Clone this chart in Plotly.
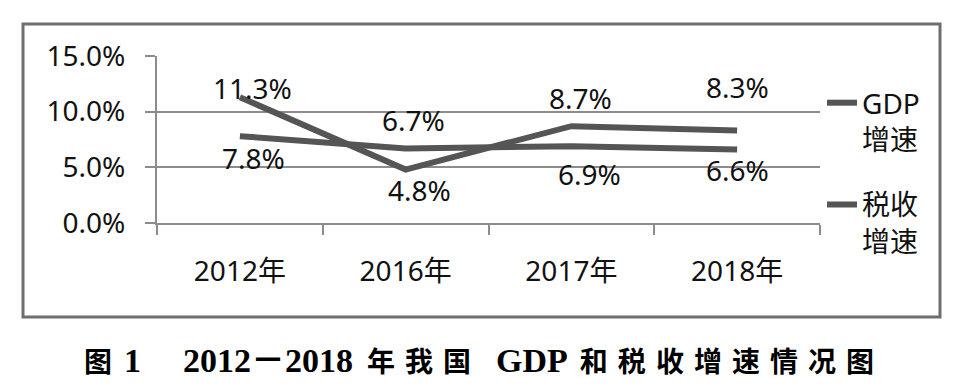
import plotly.graph_objects as go

# ---- data ----
years = ["2012年", "2016年", "2017年", "2018年"]
gdp_growth = [7.8, 6.7, 6.9, 6.6]
tax_growth = [11.3, 4.8, 8.7, 8.3]
y_ticks = [0, 5, 10, 15]
y_tick_labels = ["0.0%", "5.0%", "10.0%", "15.0%"]
series_names = ["GDP<br>增速", "税收<br>增速"]

# label offsets (pixels) - style only
gdp_label_shift = [(14, -22), (8, 28), (18, -28), (0, -20)]
tax_label_shift = [(13, 9), (14, -20), (9, 28), (0, 44)]

LINE_COLOR = "#555555"
GRID = "#8c8c8c"
FONT = "Noto Sans, Noto Sans CJK SC, sans-serif"

W, H = 969, 388
L, R, T, B = 157, 149, 56, 165
PW, PH = W - L - R, H - T - B

def px_x(p):
    return (p - L) / PW

def px_y(p):
    return (H - B - p) / PH

fig = go.Figure()
fig.add_trace(go.Scatter(x=years, y=gdp_growth, mode="lines", name=series_names[0],
                         legendgroup="g", line=dict(color=LINE_COLOR, width=6)))
fig.add_trace(go.Scatter(x=years, y=tax_growth, mode="lines", name=series_names[1],
                         legendgroup="t", line=dict(color=LINE_COLOR, width=6)))

annotations = []
for vals, shifts in ((gdp_growth, gdp_label_shift), (tax_growth, tax_label_shift)):
    for xc, v, (dx, dy) in zip(years, vals, shifts):
        annotations.append(dict(x=xc, y=v, text=f"{v:.1f}%", showarrow=False,
                                xshift=dx, yshift=dy,
                                font=dict(family=FONT, size=28, color="#111")))

def gap(n):
    return f'<span style="font-size:{n}px">\u2003</span>'

def cjk(s, g):
    return gap(g).join('<span style="font-size:28px">' + c + '</span>' for c in s)

caption = (cjk("图", 0) + gap(12) + "1" + gap(42) + "2012－2018" + gap(14)
           + cjk("年我国", 10) + gap(25) + "GDP" + gap(12) + cjk("和税收增速情况图", 10))
annotations.append(dict(xref="paper", yref="paper", x=px_x(479), y=px_y(358),
                        xanchor="center", yanchor="middle", showarrow=False,
                        text="<b>" + caption + "</b>",
                        font=dict(family="Liberation Serif, Noto Sans CJK SC, serif", size=34, color="#000")))

fig.update_layout(
    width=W, height=H,
    margin=dict(l=L, r=R, t=T, b=B, autoexpand=False),
    paper_bgcolor="white", plot_bgcolor="white",
    showlegend=True,
    legend=dict(x=px_x(822), y=px_y(78), xanchor="left", yanchor="top",
                valign="top", tracegroupgap=26, bgcolor="rgba(0,0,0,0)",
                maxheight=300,
                font=dict(family=FONT, size=28, color="#111")),
    annotations=annotations,
    shapes=[dict(type="rect", xref="paper", yref="paper",
                 x0=px_x(23), x1=px_x(940), y0=px_y(317), y1=px_y(24),
                 line=dict(color="#6e6e6e", width=3), layer="below")],
)
fig.update_xaxes(type="category", range=[-0.5, 3.5], tickson="boundaries",
                 ticks="outside", ticklen=10, tickwidth=2, tickcolor=GRID,
                 showgrid=False, showline=True, linecolor=GRID, linewidth=2,
                 ticklabelstandoff=22,
                 tickfont=dict(family=FONT, size=28, color="#111"))
fig.update_yaxes(range=[0, 15], tickvals=y_ticks, ticktext=y_tick_labels,
                 ticks="outside", ticklen=10, tickwidth=2, tickcolor=GRID,
                 showgrid=True, gridcolor=GRID, gridwidth=2, zeroline=False,
                 showline=True, linecolor=GRID, linewidth=2,
                 ticklabelstandoff=14,
                 tickfont=dict(family=FONT, size=28, color="#111"))

fig.write_html("out.html", config={"displayModeBar": False},
               post_script="document.body.style.margin='0';")
